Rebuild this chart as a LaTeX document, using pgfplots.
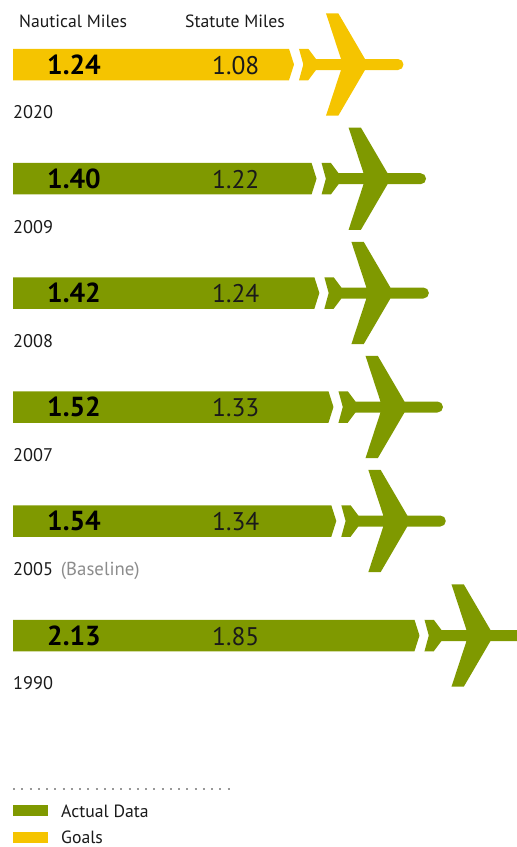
\documentclass[border=0pt]{standalone}
\usepackage{pgfplots}
\usepackage{pgfplotstable}
\pgfplotsset{compat=1.18}
\usepackage{fontspec}
\setmainfont{PT Sans}
\definecolor{actual}{HTML}{7F9900}
\definecolor{goal}{HTML}{F5C400}
\definecolor{ink}{HTML}{1A1A1A}
% aircraft outline, in points relative to the tip of its bar
\pgfplotstableread{
dx dy
5 -15.75
14.3 -15.75
22 -5.5
47 -5.5
32 -51.2
44.3 -51.2
71 -5.5
104 -5.5
107.9 -3.9
109.5 0
107.9 3.9
104 5.5
71 5.5
44.3 51.2
32 51.2
47 5.5
22 5.5
14.3 15.75
5 15.75
9.3 0
}\planeshape
% bar outline; base=1 rows sit on the left edge of the bar
\pgfplotstableread{
base dx dy
1 0 -15.75
0 -5 -15.75
0 0 0
0 -5 15.75
1 0 15.75
}\barshape
% one row: nautical miles, vertical position, colour
\newcommand\flight[3]{%
  \addplot[fill=#3,draw=none] table[x expr={\thisrow{base}*(-0.7529)+(1-\thisrow{base})*(#1+\thisrow{dx}/141)},y expr={#2+\thisrow{dy}}] {\barshape} --cycle;
  \addplot[fill=#3,draw=none] table[x expr={#1+\thisrow{dx}/141},y expr={#2+\thisrow{dy}}] {\planeshape} --cycle;
}
% text placed by left edge and baseline, measured from the top left
\newcommand\txt[4]{\node[anchor=base west,inner sep=0pt,text=ink] at (#1pt,{847pt-#2pt}) {\fontsize{#3}{#3}\selectfont #4};}
\newcommand\row[3]{%
  \txt{47}{#1}{27.5}{\textcolor{black}{\textbf{#2}}}
  \txt{212}{#1}{25.5}{#3}
}
\begin{document}
\begin{tikzpicture}
\useasboundingbox (0pt,0pt) rectangle (517pt,847pt);
\begin{axis}[
  at={(0pt,0pt)},anchor=south west,
  scale only axis,width=517pt,height=847pt,
  xmin=-0.8451,xmax=2.8216,ymin=0,ymax=847,y dir=reverse,
  hide axis,clip=true]
\flight{1.24}{64.5}{goal}
\flight{1.40}{178.7}{actual}
\flight{1.42}{293}{actual}
\flight{1.52}{407}{actual}
\flight{1.54}{521}{actual}
\flight{2.13}{635.5}{actual}
% legend keys and the dotted rule above them
\addplot[fill=actual,draw=none] coordinates {(-0.7529,805) (-0.5047,805) (-0.5047,816) (-0.7529,816)} --cycle;
\addplot[fill=goal,draw=none] coordinates {(-0.7529,832) (-0.5047,832) (-0.5047,842.5) (-0.7529,842.5)} --cycle;
\addplot[draw=black!40,line width=2pt,dash pattern=on 2pt off 6.25pt] coordinates {(-0.7529,788.5) (0.786,788.5)};
\end{axis}
\txt{19}{27.3}{17.7}{Nautical Miles}
\txt{185}{27.3}{17.7}{Statute Miles}
\row{74.5}{1.24}{1.08}
\row{188.5}{1.40}{1.22}
\row{303}{1.42}{1.24}
\row{417}{1.52}{1.33}
\row{531}{1.54}{1.34}
\row{645.5}{2.13}{1.85}
\txt{13}{119}{18.3}{2020}
\txt{13}{233.5}{18.3}{2009}
\txt{13}{347.5}{18.3}{2008}
\txt{13}{461.5}{18.3}{2007}
\txt{13}{576}{18.3}{2005\hspace{3pt} \textcolor{black!45}{\fontsize{18.8}{18.8}\selectfont(Baseline)}}
\txt{13}{690}{18.3}{1990}
\txt{61}{817}{17.7}{Actual Data}
\txt{61}{843.5}{17.7}{Goals}
\end{tikzpicture}
\end{document}
